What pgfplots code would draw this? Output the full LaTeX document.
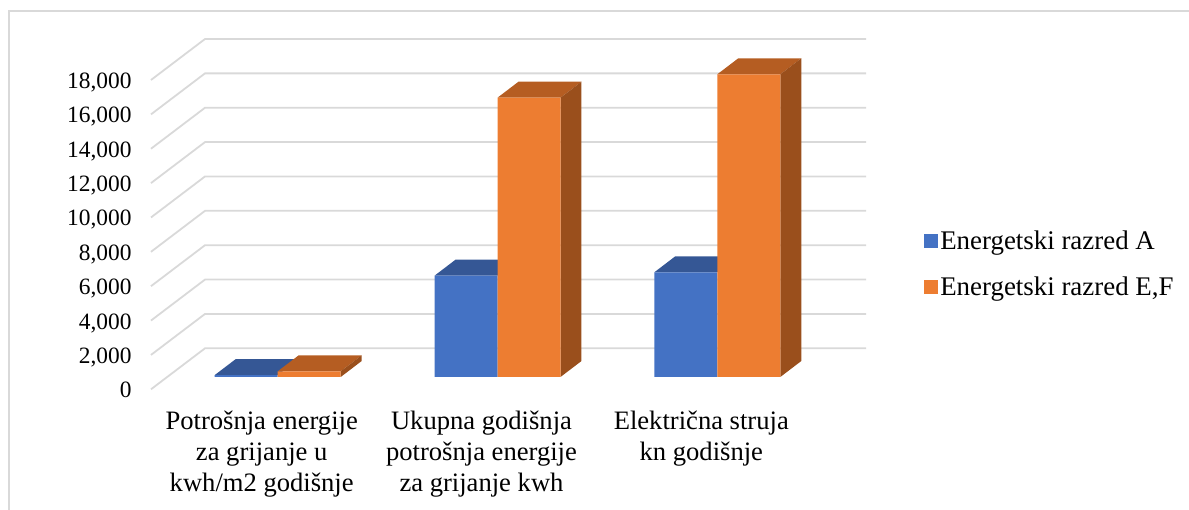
\documentclass[border=0pt]{standalone}
\usepackage{fontspec}
\setmainfont{Liberation Serif}
\usepackage{pgfplots}
\pgfplotsset{compat=1.18}
\definecolor{gridc}{HTML}{D9D9D9}
\definecolor{blueF}{HTML}{4472C4}
\definecolor{blueT}{HTML}{355795}
\definecolor{oraF}{HTML}{ED7D31}
\definecolor{oraT}{HTML}{B55D22}
\definecolor{oraS}{HTML}{9A4F1C}
\pgfplotsset{
  gl/.style={draw=gridc,line width=1.8pt,forget plot,no markers},
  face/.style={fill=#1,draw=none,forget plot,no markers},
}
\begin{document}
\begin{tikzpicture}
\useasboundingbox (0,0) rectangle (1189pt,510pt);
\begin{axis}[
  at={(0,0)},anchor=south west,
  scale only axis,width=1189pt,height=510pt,
  xmin=-1.2634,xmax=4.1460,ymin=-7740,ymax=21940,
  axis line style={draw=none},
  major tick length=0pt,
  xtick={0,1,2},
  xticklabels={{Potrošnja energije\\za grijanje u\\kwh/m2 godišnje},{Ukupna godišnja\\potrošnja energije\\za grijanje kwh},{Električna struja\\kn godišnje}},
  xticklabel style={align=center,anchor=north,font=\fontsize{26.6}{31}\selectfont,xshift=-16pt,yshift=103pt},
  ytick={0,2000,4000,6000,8000,10000,12000,14000,16000,18000},
  yticklabel style={anchor=base east,font=\fontsize{23.4}{27}\selectfont,xshift=135pt,yshift=-20.8pt,
    /pgf/number format/assume math mode=true,/pgf/number format/fixed,/pgf/number format/1000 sep={,}},
  scaled y ticks=false,
  legend style={at={(axis cs:2.9270,6578)},anchor=west,draw=none,fill=none,font=\fontsize{26.9}{31}\selectfont,
    /tikz/every even column/.style={column sep=10pt},row sep=22pt,legend cell align=left},
]
% frame
\addplot[gl] coordinates {(-1.2225,-7740)(-1.2225,21300)(4.1460,21300)};
% gridlines
\addplot[gl] coordinates {(-0.5765,-716)(-0.3307,1670)(2.6766,1670)};
\addplot[gl] coordinates {(-0.5765,1284)(-0.3307,3670)(2.6766,3670)};
\addplot[gl] coordinates {(-0.5765,3284)(-0.3307,5670)(2.6766,5670)};
\addplot[gl] coordinates {(-0.5765,5284)(-0.3307,7670)(2.6766,7670)};
\addplot[gl] coordinates {(-0.5765,7284)(-0.3307,9670)(2.6766,9670)};
\addplot[gl] coordinates {(-0.5765,9284)(-0.3307,11670)(2.6766,11670)};
\addplot[gl] coordinates {(-0.5765,11284)(-0.3307,13670)(2.6766,13670)};
\addplot[gl] coordinates {(-0.5765,13284)(-0.3307,15670)(2.6766,15670)};
\addplot[gl] coordinates {(-0.5765,15284)(-0.3307,17670)(2.6766,17670)};
\addplot[gl] coordinates {(-0.5765,17284)(-0.3307,19670)(2.6766,19670)};
% top and side faces
\addplot[face=blueT] coordinates {(-0.2866,110)(0,110)(0.0955,1041)(-0.1911,1041)} --cycle;
\addplot[face=oraT] coordinates {(0,330)(0.2866,330)(0.3821,1261)(0.0955,1261)} --cycle;
\addplot[face=oraS] coordinates {(0.2866,0)(0.3821,931)(0.3821,1261)(0.2866,330)} --cycle;
\addplot[face=blueT] coordinates {(0.7134,5895)(1,5895)(1.0955,6826)(0.8089,6826)} --cycle;
\addplot[face=oraT] coordinates {(1,16254)(1.2866,16254)(1.3821,17185)(1.0955,17185)} --cycle;
\addplot[face=oraS] coordinates {(1.2866,0)(1.3821,931)(1.3821,17185)(1.2866,16254)} --cycle;
\addplot[face=blueT] coordinates {(1.7134,6093)(2,6093)(2.0955,7024)(1.8089,7024)} --cycle;
\addplot[face=oraT] coordinates {(2,17616)(2.2866,17616)(2.3821,18547)(2.0955,18547)} --cycle;
\addplot[face=oraS] coordinates {(2.2866,0)(2.3821,931)(2.3821,18547)(2.2866,17616)} --cycle;
% front faces
\addplot[ybar,bar width=63pt,bar shift=-31.5pt,fill=blueF,draw=none,
  legend image code/.code={\fill[blueF] (0pt,-7pt) rectangle (14pt,7pt);}]
  coordinates {(0,110)(1,5895)(2,6093)};
\addlegendentry{Energetski razred A}
\addplot[ybar,bar width=63pt,bar shift=31.5pt,fill=oraF,draw=none,
  legend image code/.code={\fill[oraF] (0pt,-7pt) rectangle (14pt,7pt);}]
  coordinates {(0,330)(1,16254)(2,17616)};
\addlegendentry{Energetski razred E,F}
\end{axis}
\end{tikzpicture}
\end{document}
